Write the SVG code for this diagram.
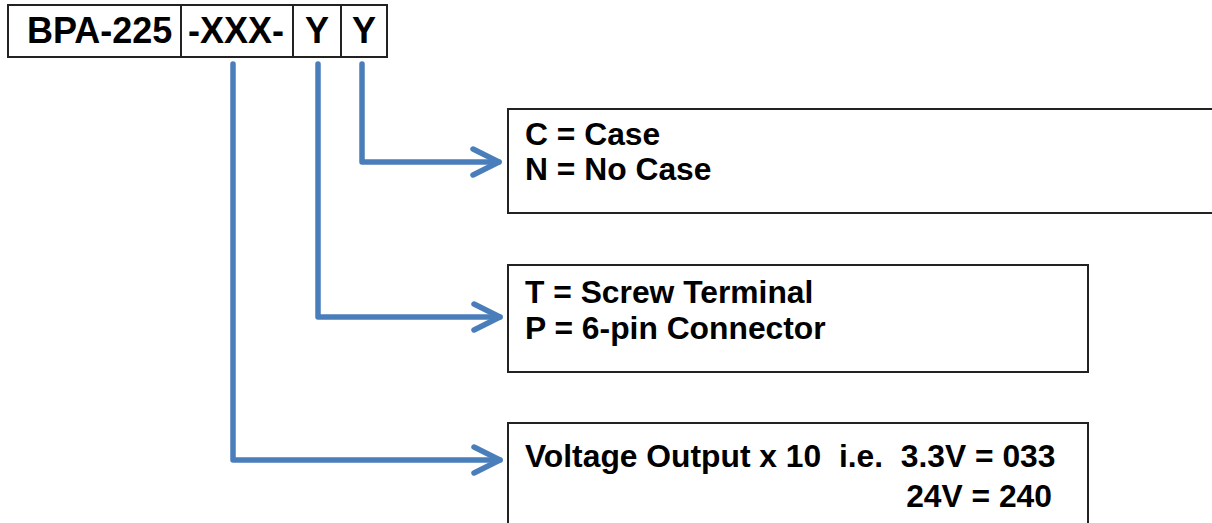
<svg xmlns="http://www.w3.org/2000/svg" width="1212" height="523" viewBox="0 0 1212 523">
<defs>
<style>
.box{fill:#fff;stroke:#222;stroke-width:2}
.hdr{font-family:"Liberation Sans",Arial,sans-serif;font-weight:bold;font-size:36px;fill:#000}
.lbl{font-family:"Liberation Sans",Arial,sans-serif;font-weight:bold;font-size:31.8px;fill:#000;white-space:pre}
.conn{fill:none;stroke:#4a7ebb;stroke-width:5.5;stroke-linejoin:round;stroke-linecap:round}
</style>
<marker id="chev" markerUnits="userSpaceOnUse" viewBox="-30 -16 34 32" refX="0" refY="0" markerWidth="34" markerHeight="32" orient="auto">
<path d="M-26,-13 L0,0 L-26,13" fill="none" stroke="#4a7ebb" stroke-width="5.5" stroke-linecap="round" stroke-linejoin="round"/>
</marker>
</defs>
<rect width="1212" height="523" fill="#fff"/>
<g id="partnumber">
<rect class="box" x="8" y="5" width="379" height="52"/>
<line x1="181" y1="5" x2="181" y2="57" stroke="#222" stroke-width="2"/>
<line x1="293" y1="5" x2="293" y2="57" stroke="#222" stroke-width="2"/>
<line x1="341" y1="5" x2="341" y2="57" stroke="#222" stroke-width="2"/>
<text class="hdr" x="27" y="43">BPA-225</text>
<text class="hdr" x="188" y="43">-XXX-</text>
<text class="hdr" x="317" y="43" text-anchor="middle">Y</text>
<text class="hdr" x="364" y="43" text-anchor="middle">Y</text>
</g>
<g id="connectors">
<path class="conn" d="M362,64 L362,162 L499,162" marker-end="url(#chev)"/>
<path class="conn" d="M318,64 L318,317 L500,317" marker-end="url(#chev)"/>
<path class="conn" d="M233,64 L233,460 L500,460" marker-end="url(#chev)"/>
</g>
<g id="case">
<rect class="box" x="508" y="109" width="720" height="104"/>
<text class="lbl" x="525" y="145">C = Case</text>
<text class="lbl" x="525" y="180">N = No Case</text>
</g>
<g id="terminal">
<rect class="box" x="508" y="265" width="580" height="107"/>
<text class="lbl" x="525" y="303">T = Screw Terminal</text>
<text class="lbl" x="525" y="339">P = 6-pin Connector</text>
</g>
<g id="voltage">
<rect class="box" x="508" y="423" width="580" height="120"/>
<text class="lbl" x="525" y="467">Voltage Output x 10  i.e.  3.3V = 033</text>
<text class="lbl" x="1052" y="507" text-anchor="end">24V = 240</text>
</g>
</svg>
